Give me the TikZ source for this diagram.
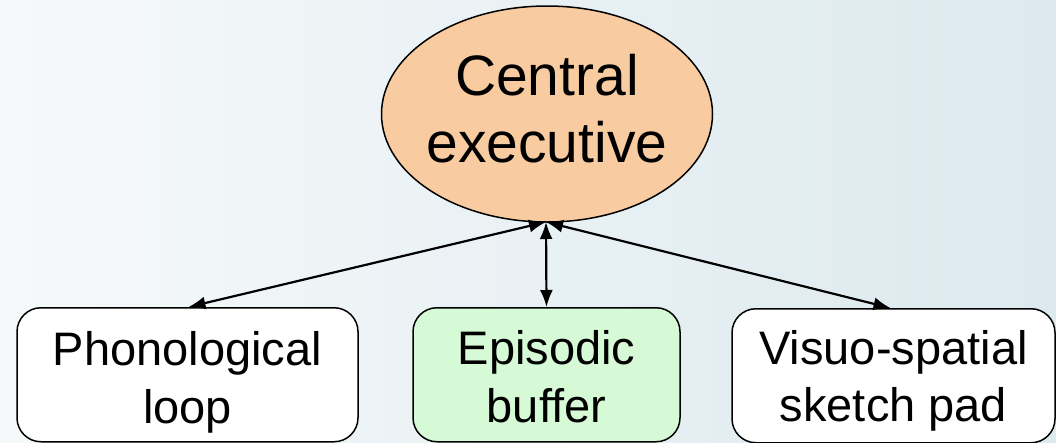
\documentclass[tikz,border=0pt]{standalone}
\usepackage{fontspec}
\setmainfont{Liberation Sans}
\usetikzlibrary{shapes.geometric,arrows.meta,shadings}
\definecolor{bgleft}{RGB}{246,249,250}
\definecolor{bgmid}{RGB}{234,241,244}
\definecolor{bgright}{RGB}{220,233,238}
\definecolor{cefill}{RGB}{249,203,160}
\definecolor{ebfill}{RGB}{214,249,214}
\tikzset{
  boxstyle/.style={draw=black, line width=1.5pt, rounded corners=24pt, minimum width=#1, minimum height=134pt, inner sep=0pt, anchor=north},
  boxstyle/.default=340pt,
  bigtext/.style={font=\fontsize{57}{67}\selectfont, inner sep=0pt, anchor=base},
  smalltext/.style={font=\fontsize{47}{58}\selectfont, inner sep=0pt, anchor=base},
  link/.style={line width=2.2pt, {Latex[length=17pt,width=13pt]}-{Latex[length=17pt,width=13pt]}}
}
\begin{document}
\begin{tikzpicture}[x=1pt,y=-1pt]
\useasboundingbox (0,0) rectangle (1056,442);
\shade[left color=bgleft, middle color=bgmid, right color=bgright] (0,0) rectangle (1056,442);
% central executive
\node[ellipse, draw=black, line width=1.5pt, fill=cefill, minimum width=331pt, minimum height=216pt, inner sep=0pt] (ce) at (547,114) {};
\node[bigtext] (ce1) at (547,95) {Central};
\node[bigtext] (ce2) at (547,162) {executive};
% boxes
\node[boxstyle=341pt, fill=white] (pl) at (187.5,307) {};
\node[boxstyle=267pt, fill=ebfill] (eb) at (546.5,307) {};
\node[boxstyle=323pt, fill=white] (vs) at (893.5,308) {};
\node[smalltext] (pl1) at (187.5,365) {Phonological};
\node[smalltext] (pl2) at (187.5,423) {loop};
\node[smalltext] (eb1) at (546.5,364) {Episodic};
\node[smalltext] (eb2) at (546.5,422) {buffer};
\node[smalltext] (vs1) at (893.5,364) {Visuo-spatial};
\node[smalltext] (vs2) at (893.5,421) {sketch pad};
% connectors
\coordinate (hub) at (546,222);
\draw[link] (hub) -- ([xshift=1pt]pl.north);
\draw[link] (hub) -- (eb.north);
\draw[link] (hub) -- ([xshift=-3pt]vs.north);
\end{tikzpicture}
\end{document}
